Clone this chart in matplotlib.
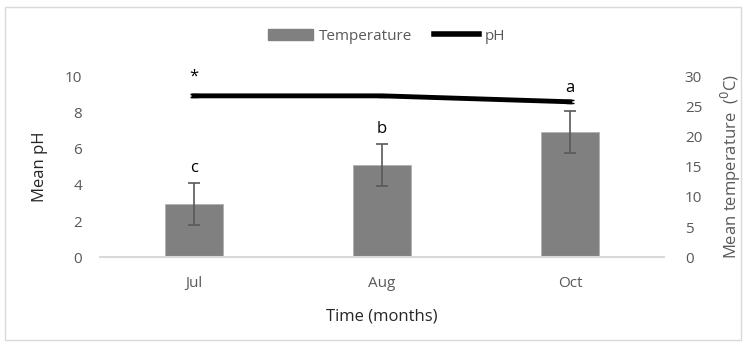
import matplotlib
matplotlib.use("Agg")
import matplotlib.pyplot as plt
from matplotlib.patches import Rectangle
from matplotlib.lines import Line2D

months = ["Jul", "Aug", "Oct"]
temperature = [8.9, 15.4, 20.8]
temperature_err = [3.5, 3.5, 3.5]
ph = [8.95, 8.95, 8.62]
ph_err = [0.08, 0.05, 0.08]
temp_letters = ["c", "b", "a"]
ph_letters = ["*", "", ""]

plt.rcParams['font.family'] = ['Open Sans', 'DejaVu Sans']
grey_txt = '#595959'

fig = plt.figure(figsize=(7.46, 3.45), dpi=100)
fig.patches.append(Rectangle((0.007, 0.015), 0.986, 0.965, transform=fig.transFigure,
                             fill=False, edgecolor='#d9d9d9', linewidth=1))
ax = fig.add_axes([0.134, 0.255, 0.756, 0.522])
ax2 = ax.twinx()

x = list(range(len(months)))
ax2.bar(x, temperature, width=0.31, color='#808080', edgecolor='#b0b0b0', linewidth=0.6,
        yerr=temperature_err, ecolor='#595959', capsize=4, error_kw=dict(elinewidth=1.2, capthick=1.2),
        zorder=2)
ax.set_zorder(ax2.get_zorder() + 1)
ax.patch.set_visible(False)
ax.errorbar(x, ph, yerr=ph_err, color='black', linewidth=3.5, ecolor='black', capsize=3,
            elinewidth=1, zorder=3)

ax.set_xlim(-0.5, 2.5)
ax.set_ylim(0, 10)
ax2.set_ylim(0, 30)
ax.set_yticks(range(0, 11, 2))
ax2.set_yticks(range(0, 31, 5))
ax.set_xticks(x)
ax.set_xticklabels(months)

for a in (ax, ax2):
    for s in a.spines.values():
        s.set_visible(False)
    a.tick_params(length=0, colors=grey_txt, labelsize=11)
ax.spines['bottom'].set_visible(True)
ax.spines['bottom'].set_color('#d9d9d9')
ax.spines['bottom'].set_linewidth(1.5)
ax.tick_params(axis='y', pad=13)
ax.tick_params(axis='x', pad=14)
ax2.tick_params(axis='y', pad=15)

ax.set_xlabel("Time (months)", fontsize=12, color='#262626', labelpad=12)
ax.set_ylabel("Mean pH", fontsize=12, color='#262626', labelpad=12)
ax2.set_ylabel("Mean temperature  ($^{0}$C)", fontsize=12, color=grey_txt, labelpad=12)

for i in x[:2]:
    ax2.text(i, temperature[i] + temperature_err[i] + 1.1, temp_letters[i], ha='center', va='bottom',
             fontsize=12, color='black')
ax2.text(2, ph[2] * 3 + 0.9, temp_letters[2], ha='center', va='bottom', fontsize=12, color='black')
ax.text(0, ph[0] + 0.6, ph_letters[0], ha='center', va='bottom', fontsize=12, color='black')

handles = [Rectangle((0, 0), 1, 1, color='#808080'), Line2D([], [], color='black', linewidth=4)]
fig.legend(handles, ["Temperature", "pH"], loc='center', bbox_to_anchor=(0.518, 0.895), ncol=2,
           frameon=False, fontsize=11, labelcolor=grey_txt, handlelength=3.0, handleheight=0.8,
           columnspacing=1.4, handletextpad=0.35)

fig.savefig("out.png", dpi=100)
